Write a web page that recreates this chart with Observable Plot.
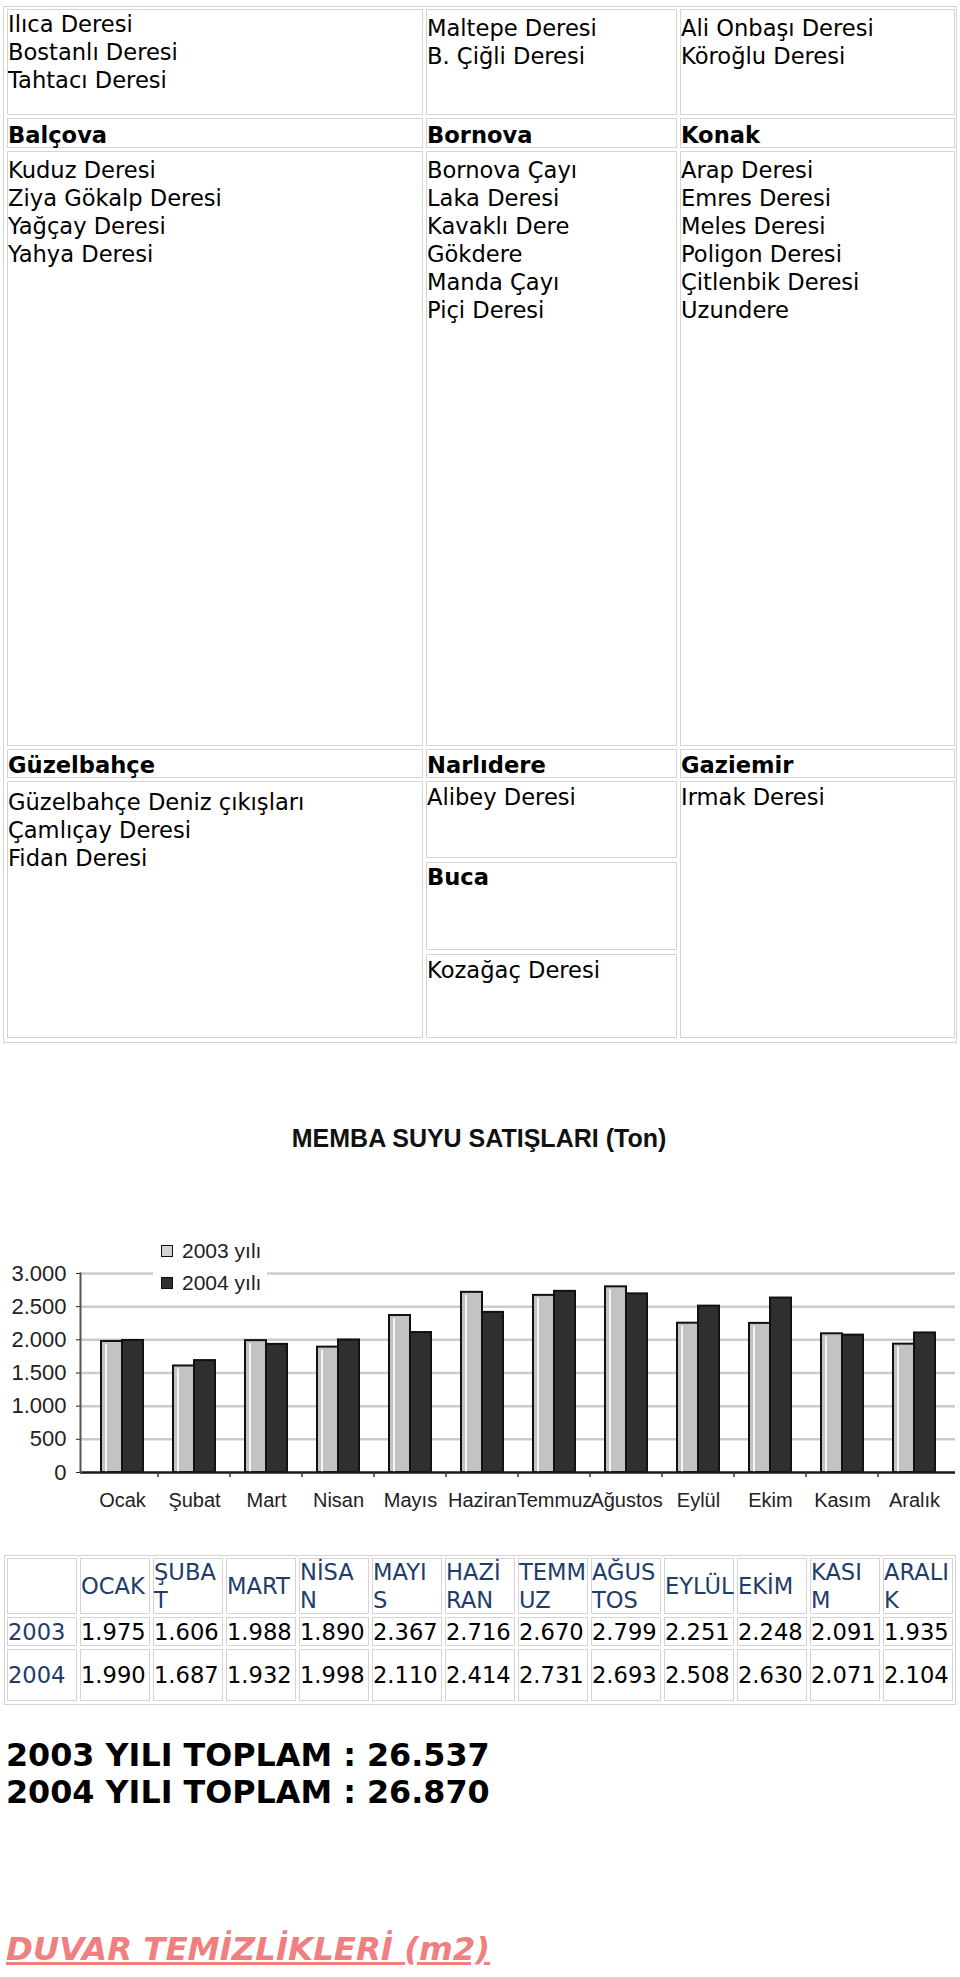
<!DOCTYPE html>
<html>
<head>
<meta charset="utf-8">
<script src="https://cdn.jsdelivr.net/npm/d3@7"></script>
<script src="https://cdn.jsdelivr.net/npm/@observablehq/plot@0.6"></script>
<style>
  html, body { margin: 0; padding: 0; background: #fff; }
  body { width: 960px; height: 1977px; position: relative; overflow: hidden;
         font-family: "DejaVu Sans", Verdana, sans-serif; color: #000; }
  .box { position: absolute; box-sizing: border-box; border: 1px solid #d4d4d4; }
  .cell { position: absolute; box-sizing: border-box; border: 1px solid #d4d4d4;
          font-size: 22.6px; line-height: 28px; white-space: nowrap; overflow: visible; }
  .bold { font-weight: bold; }
  .tcell { position: absolute; box-sizing: border-box; border: 1px solid #d4d4d4;
           font-size: 22.6px; line-height: 28px; white-space: nowrap; overflow: visible;
           display: flex; align-items: center; }
  .blue { color: #1f3d6b; }
  #chart { position: absolute; left: 0; top: 1200px; }
  #title { position: absolute; left: 0; top: 1123px; width: 958px; text-align: center;
           font-family: "Liberation Sans", Arial, sans-serif; font-weight: bold; font-size: 25px;
           line-height: 30px; color: #111; }
  #legend { position: absolute; left: 153px; top: 1236px; width: 114px; height: 64px; background: #fff;
            font-family: "Liberation Sans", Arial, sans-serif; font-size: 21px; color: #222; }
  .litem { position: absolute; left: 8px; height: 24px; line-height: 24px; }
  .lsw { position: absolute; left: 0; top: 6px; width: 12px; height: 12px; box-sizing: border-box; border: 1.5px solid #111; }
  .ltx { position: absolute; left: 21px; top: 0; white-space: nowrap; }
  #totals { position: absolute; left: 6px; top: 1736px; font-weight: bold; font-size: 31.8px; line-height: 37px; white-space: nowrap; }
  #link { position: absolute; left: 6px; top: 1931px; font-weight: bold; font-style: italic; font-size: 32.4px;
          line-height: 37px; color: #f08080; text-decoration: underline; white-space: nowrap; }
</style>
</head>
<body>
<script>
// ---------- content data ----------
const row1Lists = [
  ["Ilıca Deresi", "Bostanlı Deresi", "Tahtacı Deresi"],
  ["Maltepe Deresi", "B. Çiğli Deresi"],
  ["Ali Onbaşı Deresi", "Köroğlu Deresi"]
];
const row2Heads = ["Balçova", "Bornova", "Konak"];
const row3Lists = [
  ["Kuduz Deresi", "Ziya Gökalp Deresi", "Yağçay Deresi", "Yahya Deresi"],
  ["Bornova Çayı", "Laka Deresi", "Kavaklı Dere", "Gökdere", "Manda Çayı", "Piçi Deresi"],
  ["Arap Deresi", "Emres Deresi", "Meles Deresi", "Poligon Deresi", "Çitlenbik Deresi", "Uzundere"]
];
const row4Heads = ["Güzelbahçe", "Narlıdere", "Gaziemir"];
const row5Col1 = ["Güzelbahçe Deniz çıkışları", "Çamlıçay Deresi", "Fidan Deresi"];
const row5Col2 = ["Alibey Deresi", "Buca", "Kozağaç Deresi"];
const row5Col3 = ["Irmak Deresi"];

const chartTitle = "MEMBA SUYU SATIŞLARI (Ton)";
const months = ["Ocak", "Şubat", "Mart", "Nisan", "Mayıs", "Haziran", "Temmuz", "Ağustos", "Eylül", "Ekim", "Kasım", "Aralık"];
const series = ["2003 yılı", "2004 yılı"];
const values2003 = [1975, 1606, 1988, 1890, 2367, 2716, 2670, 2799, 2251, 2248, 2091, 1935];
const values2004 = [1990, 1687, 1932, 1998, 2110, 2414, 2731, 2693, 2508, 2630, 2071, 2104];
const yTicks = [0, 500, 1000, 1500, 2000, 2500, 3000];

const tableHeads = [["OCAK"], ["ŞUBA", "T"], ["MART"], ["NİSA", "N"], ["MAYI", "S"], ["HAZİ", "RAN"],
                    ["TEMM", "UZ"], ["AĞUS", "TOS"], ["EYLÜL"], ["EKİM"], ["KASI", "M"], ["ARALI", "K"]];
const tableYears = ["2003", "2004"];
const totals = ["2003 YILI TOPLAM : 26.537", "2004 YILI TOPLAM : 26.870"];
const linkText = "DUVAR TEMİZLİKLERİ (m2)";

// ---------- helpers ----------
function el(tag, cls, parent) {
  const e = document.createElement(tag);
  if (cls) e.className = cls;
  (parent || document.body).appendChild(e);
  return e;
}
function cell(x, y, w, h, lines, padTop, bold) {
  const c = el("div", "cell" + (bold ? " bold" : ""));
  Object.assign(c.style, {left: x + "px", top: y + "px", width: w + "px", height: h + "px", paddingTop: padTop + "px"});
  lines.forEach((t, i) => { if (i) c.appendChild(document.createElement("br")); c.appendChild(document.createTextNode(t)); });
  return c;
}

// ---------- top table ----------
const outer = el("div", "box");
Object.assign(outer.style, {left: "3px", top: "6px", width: "954px", height: "1037px"});
const cols = [{x: 7, w: 416}, {x: 426, w: 251}, {x: 680, w: 275}];
row1Lists.forEach((l, i) => cell(cols[i].x, 9, cols[i].w, 106, l, i === 0 ? 0 : 4));
row2Heads.forEach((t, i) => cell(cols[i].x, 118, cols[i].w, 30, [t], 2, true));
row3Lists.forEach((l, i) => cell(cols[i].x, 151, cols[i].w, 595, l, 4));
row4Heads.forEach((t, i) => cell(cols[i].x, 749, cols[i].w, 29, [t], 1, true));
cell(cols[0].x, 781, cols[0].w, 257, row5Col1, 6);
cell(cols[1].x, 781, cols[1].w, 77, [row5Col2[0]], 1);
cell(cols[1].x, 862, cols[1].w, 88, [row5Col2[1]], 0, true);
cell(cols[1].x, 954, cols[1].w, 84, [row5Col2[2]], 1);
cell(cols[2].x, 781, cols[2].w, 257, row5Col3, 1);

// ---------- chart ----------
const title = el("div"); title.id = "title"; title.textContent = chartTitle;

const data = months.flatMap((m, i) => [
  {month: m, year: series[0], value: values2003[i]},
  {month: m, year: series[1], value: values2004[i]}
]);
const fmt = d => d >= 1000 ? Math.floor(d / 1000) + "." + String(d % 1000).padStart(3, "0") : String(d);

const chart = Plot.plot({
  width: 960,
  height: 320,
  marginTop: 73,
  marginBottom: 48,
  marginLeft: 80,
  marginRight: 5,
  style: {fontFamily: "'Liberation Sans', Arial, sans-serif", fontSize: "20px", color: "#222", background: "transparent", overflow: "visible"},
  x: {type: "band", domain: months, paddingInner: 0.42, paddingOuter: 0.21, label: null, tickSize: 0, tickPadding: 20},
  y: {domain: [0, 3000], ticks: yTicks, tickFormat: fmt, tickSize: 4, tickPadding: 10, label: null},
  marks: [
    Plot.ruleY(yTicks.filter(d => d > 0), {stroke: "#cbcbcb", strokeWidth: 2.5}),
    Plot.barY(data.filter(d => d.year === series[0]), {x: "month", y: "value", insetRight: 21, fill: "#c3c3c3", stroke: "#111", strokeWidth: 2}),
    Plot.barY(data.filter(d => d.year === series[0]), {x: "month", y: "value", insetLeft: 4, insetRight: 36, insetTop: 3, fill: "#f4f4f4"}),
    Plot.barY(data.filter(d => d.year === series[1]), {x: "month", y: "value", insetLeft: 21, fill: "#2f2f2f", stroke: "#111", strokeWidth: 2}),
    Plot.ruleY([0], {stroke: "#1a1a1a", strokeWidth: 2.5}),
    Plot.frame({anchor: "left", stroke: "#555", strokeWidth: 2}),
    Plot.ruleX(months.slice(1), {x: d => d, y1: () => 0, y2: () => 0, insetBottom: -5, dx: -36.45, stroke: "#333", strokeWidth: 1.5})
  ]
});
chart.id = "chart";
d3.select(chart).selectAll('[aria-label="y-axis tick label"]').attr("font-size", 22);
document.body.appendChild(chart);

const legend = el("div"); legend.id = "legend";
series.forEach((s, i) => {
  const it = el("div", "litem", legend);
  it.style.top = (3 + i * 32) + "px";
  const sw = el("div", "lsw", it);
  sw.style.background = i === 0 ? "#d2d2d2" : "#2f2f2f";
  const tx = el("div", "ltx", it);
  tx.textContent = s;
});

// ---------- data table ----------
const tOuter = el("div", "box");
Object.assign(tOuter.style, {left: "4px", top: "1555px", width: "952px", height: "150px"});
const tRows = [{y: 1558, h: 56}, {y: 1617, h: 29}, {y: 1649, h: 52}];
const colX = i => 80 + 73 * i;
function tcell(x, y, w, h, lines, cls) {
  const c = el("div", "tcell" + (cls ? " " + cls : ""));
  Object.assign(c.style, {left: x + "px", top: y + "px", width: w + "px", height: h + "px"});
  const inner = el("div", "", c);
  lines.forEach((t, i) => { if (i) inner.appendChild(document.createElement("br")); inner.appendChild(document.createTextNode(t)); });
  return c;
}
tcell(7, tRows[0].y, 70, tRows[0].h, [""]);
tableHeads.forEach((l, i) => tcell(colX(i), tRows[0].y, 70, tRows[0].h, l, "blue"));
[values2003, values2004].forEach((vals, r) => {
  const row = tRows[r + 1];
  tcell(7, row.y, 70, row.h, [tableYears[r]], "blue");
  vals.forEach((v, i) => tcell(colX(i), row.y, 70, row.h, [(v / 1000).toFixed(3)]));
});

// ---------- totals & link ----------
const tot = el("div"); tot.id = "totals";
totals.forEach((t, i) => { if (i) tot.appendChild(document.createElement("br")); tot.appendChild(document.createTextNode(t)); });
const link = el("div"); link.id = "link"; link.textContent = linkText;
</script>
</body>
</html>
